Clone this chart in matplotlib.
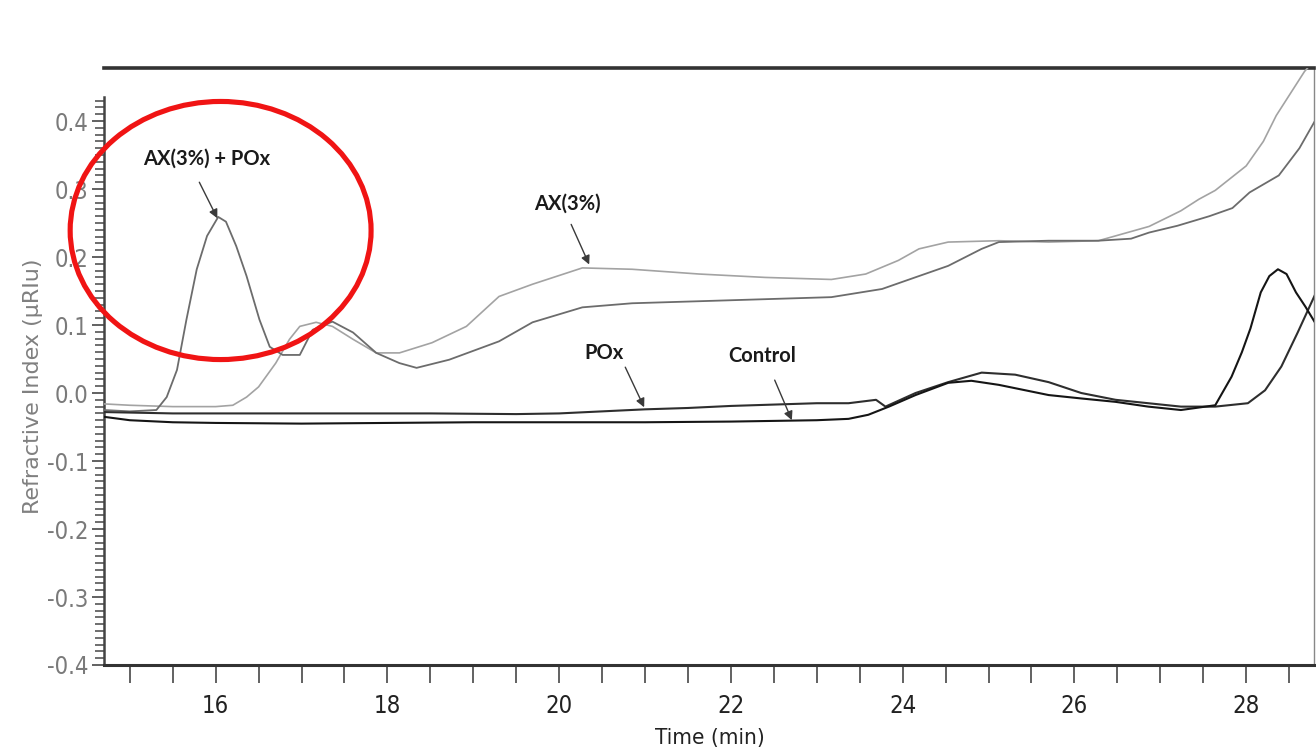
import matplotlib
matplotlib.use("Agg")
import matplotlib.pyplot as plt
from matplotlib import font_manager as fm
from matplotlib.patches import Ellipse
import numpy as np

plt.rcParams['axes.unicode_minus'] = False

# ---------------- data ----------------
ax3_x = [14.70, 15.0, 15.5, 16.0, 16.2, 16.36, 16.5, 16.7, 16.86, 16.98, 17.17, 17.36, 17.6,
         17.87, 18.14, 18.52, 18.92, 19.3, 19.69, 20.27, 20.85, 21.63, 22.4, 23.17, 23.57,
         23.95, 24.19, 24.53, 25.12, 25.7, 26.28, 26.87, 27.24, 27.45, 27.64, 28.0, 28.2,
         28.35, 28.68, 28.8]
ax3_y = [-0.016, -0.018, -0.02, -0.02, -0.018, -0.006, 0.009, 0.044, 0.079, 0.098, 0.104, 0.098,
         0.079, 0.059, 0.059, 0.074, 0.098, 0.142, 0.16, 0.184, 0.182, 0.175, 0.17, 0.167, 0.175,
         0.195, 0.212, 0.222, 0.224, 0.222, 0.224, 0.245, 0.268, 0.285, 0.298, 0.334, 0.37,
         0.408, 0.473, 0.49]

axpox_x = [14.70, 15.0, 15.31, 15.43, 15.55, 15.66, 15.78, 15.9, 16.03, 16.12, 16.24, 16.36,
           16.51, 16.63, 16.78, 16.98, 17.13, 17.36, 17.6, 17.87, 18.14, 18.34, 18.72, 19.3,
           19.69, 20.27, 20.85, 21.63, 22.4, 23.17, 23.76, 24.19, 24.53, 24.92, 25.12, 25.7,
           26.28, 26.66, 26.87, 27.2, 27.57, 27.84, 28.04, 28.38, 28.62, 28.8]
axpox_y = [-0.025, -0.027, -0.025, -0.006, 0.034, 0.108, 0.182, 0.231, 0.259, 0.252, 0.216,
           0.172, 0.108, 0.068, 0.056, 0.056, 0.093, 0.105, 0.089, 0.059, 0.044, 0.037, 0.049,
           0.076, 0.104, 0.126, 0.132, 0.135, 0.138, 0.141, 0.153, 0.172, 0.187, 0.212, 0.222,
           0.224, 0.224, 0.227, 0.236, 0.246, 0.26, 0.272, 0.295, 0.32, 0.36, 0.40]

pox_x = [14.70, 15.5, 16.5, 17.5, 18.5, 19.5, 20.0, 20.5, 21.0, 21.5, 22.0, 22.5, 23.0, 23.37,
         23.69, 23.8, 24.15, 24.53, 24.92, 25.31, 25.7, 26.08, 26.48, 26.86, 27.24, 27.64,
         28.02, 28.22, 28.41, 28.6, 28.8]
pox_y = [-0.028, -0.03, -0.03, -0.03, -0.03, -0.031, -0.03, -0.027, -0.024, -0.022, -0.019,
         -0.017, -0.015, -0.015, -0.01, -0.02, 0.0, 0.016, 0.03, 0.027, 0.016, 0.0, -0.01,
         -0.015, -0.02, -0.02, -0.015, 0.004, 0.039, 0.089, 0.144]

ctrl_x = [14.70, 15.0, 15.5, 16.0, 17.0, 18.0, 19.0, 20.0, 21.0, 22.0, 23.0, 23.37, 23.6, 23.84,
          24.15, 24.53, 24.8, 25.12, 25.7, 26.08, 26.48, 26.86, 27.24, 27.64, 27.83, 27.95,
          28.05, 28.17, 28.27, 28.37, 28.47, 28.58, 28.69, 28.8]
ctrl_y = [-0.035, -0.04, -0.043, -0.044, -0.045, -0.044, -0.043, -0.043, -0.043, -0.042, -0.040,
          -0.038, -0.032, -0.02, -0.003, 0.015, 0.018, 0.012, -0.003, -0.008, -0.013, -0.02,
          -0.025, -0.018, 0.024, 0.06, 0.095, 0.148, 0.172, 0.182, 0.175, 0.148, 0.127, 0.104]

x_major = [16, 18, 20, 22, 24, 26, 28]
x_labels = ['16', '18', '20', '22', '24', '26', '28']
y_major = [-0.4, -0.3, -0.2, -0.1, 0.0, 0.1, 0.2, 0.3, 0.4]
y_labels = ['-0.4', '-0.3', '-0.2', '-0.1', '0.0', '0.1', '0.2', '0.3', '0.4']

labels = ['AX(3%) + POx', 'AX(3%)', 'POx', 'Control']
label_pos = [(15.895, 0.344), (20.10, 0.279), (20.52, 0.059), (22.36, 0.055)]
arrow_from = [(15.81, 0.310), (20.14, 0.248), (20.77, 0.038), (22.51, 0.019)]
arrow_to = [(16.02, 0.257), (20.35, 0.189), (20.99, -0.021), (22.71, -0.040)]

# ---------------- fonts ----------------
ttf = fm.fontManager.ttflist
names = {f.name for f in ttf}
narrow_fp_kw = None
narrow_scale = 1.0
for f in ttf:
    if f.name == 'Liberation Sans Narrow' and f.weight in (400, 'normal', 'regular') and f.style == 'normal':
        narrow_fp_kw = dict(fname=f.fname)
        break
if narrow_fp_kw is None:
    for f in ttf:
        if ('Condensed' in f.name or 'Narrow' in f.name or str(f.stretch) in ('condensed', 'semi-condensed')) \
                and f.style == 'normal' and f.weight in (400, 'normal', 'regular') and 'Mono' not in f.name \
                and 'Serif' not in f.name:
            narrow_fp_kw = dict(fname=f.fname)
            narrow_scale = 0.95
            break
if narrow_fp_kw is None:
    narrow_fp_kw = dict(family='DejaVu Sans')
    narrow_scale = 0.85


def nfp(size):
    return fm.FontProperties(size=size * narrow_scale, **narrow_fp_kw)


bold_family = 'Lato' if 'Lato' in names else 'DejaVu Sans'

# ---------------- figure ----------------
W, H = 1316, 753
fig = plt.figure(figsize=(W / 100, H / 100), dpi=100)
ax = fig.add_axes([104 / W, (H - 665) / H, (1314 - 104) / W, (665 - 68) / H])

ax.plot(ax3_x, ax3_y, color='#a3a3a3', lw=1.2, zorder=3)
ax.plot(axpox_x, axpox_y, color='#6c6c6c', lw=1.3, zorder=3)
ax.plot(pox_x, pox_y, color='#2e2e2e', lw=1.5, zorder=4)
ax.plot(ctrl_x, ctrl_y, color='#151515', lw=1.5, zorder=4)

ax.set_xlim(14.70, 28.79)
ax.set_ylim(-0.4, 0.478)

ax.set_xticks(x_major)
ax.set_xticklabels(x_labels)
ax.set_xticks(np.arange(15.0, 28.8, 0.5), minor=True)
ax.set_yticks(y_major)
ax.set_yticklabels(y_labels)
ax.set_yticks(np.round(np.arange(-0.40, 0.436, 0.01), 2), minor=True)

ax.tick_params(axis='x', which='both', direction='out', length=13, width=1.3,
               color='#555555', pad=8, labelcolor='#222222')
ax.tick_params(axis='y', which='major', direction='out', length=9, width=1.3,
               color='#555555', pad=2, labelcolor='#7a7a7a')
ax.tick_params(axis='y', which='minor', direction='out', length=6.5, width=1.2,
               color='#555555')
for lab in ax.get_xticklabels() + ax.get_yticklabels():
    lab.set_fontproperties(nfp(18))

ax.spines['left'].set_bounds(-0.4, 0.435)
ax.spines['left'].set_linewidth(1.8)
ax.spines['left'].set_color('#444444')
ax.spines['bottom'].set_linewidth(2.2)
ax.spines['bottom'].set_color('#333333')
ax.spines['top'].set_linewidth(2.6)
ax.spines['top'].set_color('#333333')
ax.spines['right'].set_linewidth(1.0)
ax.spines['right'].set_color('#888888')

fig.text(33 / W, 1 - 386 / H, 'Refractive Index (µRIu)', rotation=90, ha='center',
         va='center', fontsize=16, color='#808080', family='DejaVu Sans')
fig.text(710 / W, 1 - 738 / H, 'Time (min)', ha='center', va='center', color='#222222',
         fontproperties=nfp(17))

for lab, pos, a0, a1 in zip(labels, label_pos, arrow_from, arrow_to):
    ax.text(pos[0], pos[1], lab, ha='center', va='center', fontsize=14.5,
            fontweight='bold', family=bold_family, color='#1a1a1a', zorder=6)
    ax.annotate('', xy=a1, xytext=a0,
                arrowprops=dict(arrowstyle='-|>', color='#3a3a3a', lw=1.0,
                                mutation_scale=13, shrinkA=0, shrinkB=0), zorder=6)

ell = Ellipse((16.058, 0.239), 3.504, 0.3796, fill=False, edgecolor='#f01414', lw=3.7,
              clip_on=False, zorder=7)
ax.add_patch(ell)

fig.savefig('out.png', dpi=100)
